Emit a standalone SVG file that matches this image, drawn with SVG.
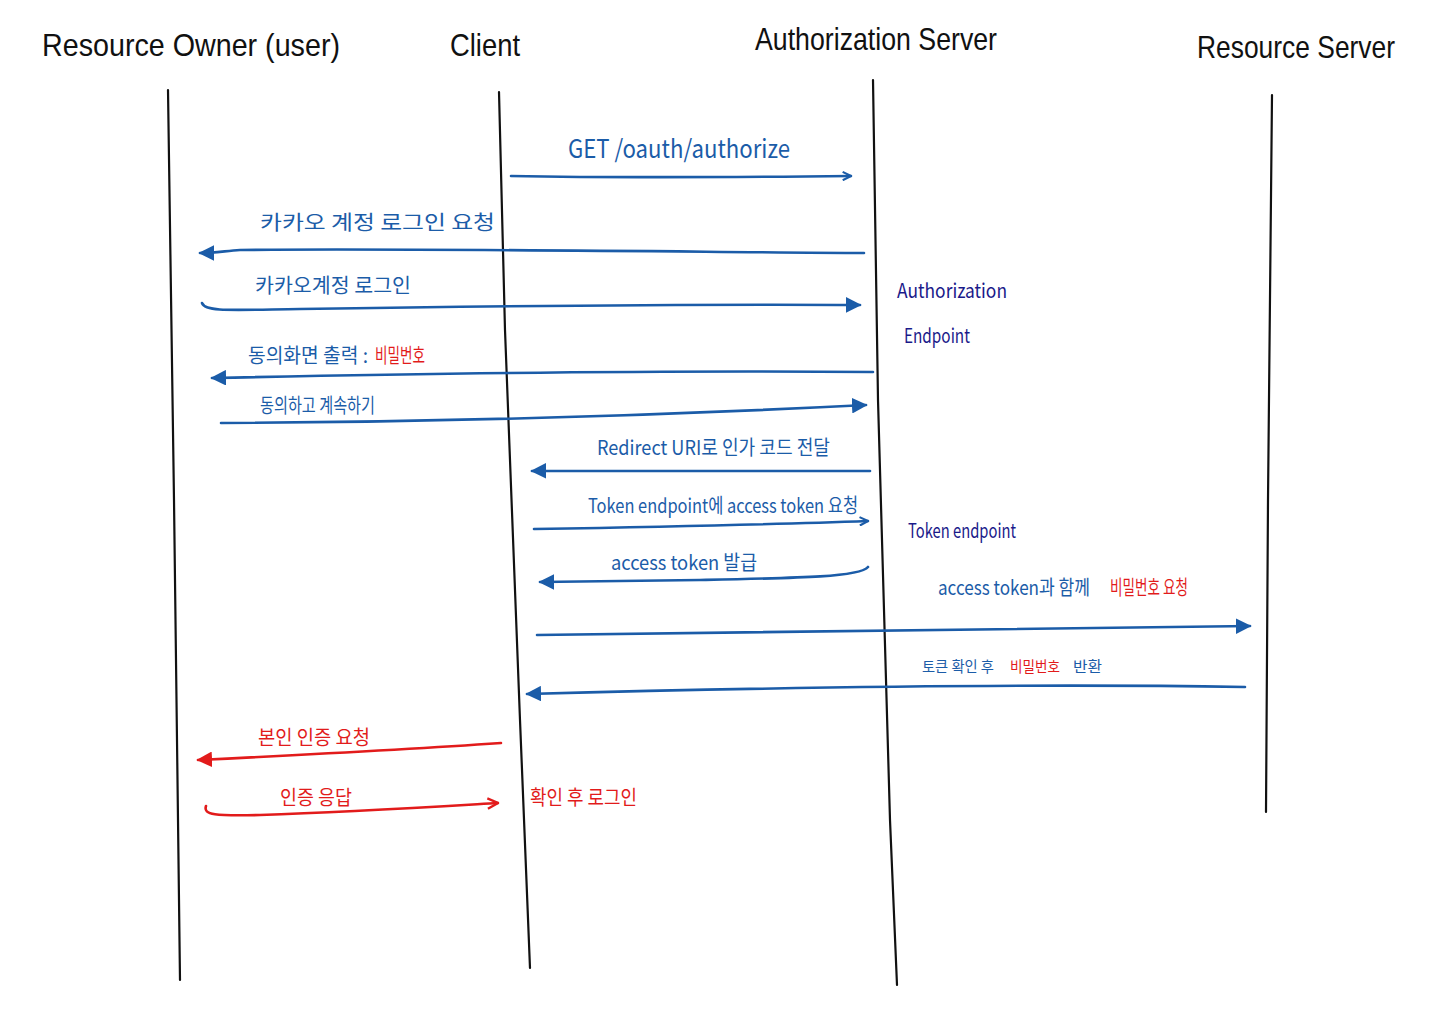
<svg xmlns="http://www.w3.org/2000/svg" width="1440" height="1018" viewBox="0 0 1440 1018">
<style>
.life{fill:none;stroke:#111;stroke-width:2.2;stroke-linecap:round}
.hdr{font-family:"Liberation Sans","Noto Sans CJK KR",sans-serif;font-size:32px;fill:#111}
.b{fill:none;stroke:#1b5ca8;stroke-width:2.6;stroke-linecap:round}
.r{fill:none;stroke:#e21b1b;stroke-width:2.6;stroke-linecap:round}
.t{font-family:"Noto Sans CJK KR","Liberation Sans",sans-serif;font-size:20px}
.tb{fill:#1b5ca8}
.tr{fill:#e21b1b}
.tn{fill:#1a1a8a}
</style>
<defs>
<marker id="fb" viewBox="0 0 10 10" refX="9" refY="5" markerWidth="6" markerHeight="6" orient="auto" markerUnits="strokeWidth"><path d="M0,0 L10,5 L0,10 Z" fill="#1b5ca8"/></marker>
<marker id="ob" viewBox="0 0 10 10" refX="9" refY="5" markerWidth="4" markerHeight="4" orient="auto" markerUnits="strokeWidth"><path d="M1,1 L9,5 L1,9" fill="none" stroke="#1b5ca8" stroke-width="2"/></marker>
<marker id="fr" viewBox="0 0 10 10" refX="9" refY="5" markerWidth="6" markerHeight="6" orient="auto" markerUnits="strokeWidth"><path d="M0,0 L10,5 L0,10 Z" fill="#e21b1b"/></marker>
<marker id="or" viewBox="0 0 10 10" refX="9" refY="5" markerWidth="5" markerHeight="5" orient="auto" markerUnits="strokeWidth"><path d="M1,1 L9,5 L1,9" fill="none" stroke="#e21b1b" stroke-width="1.8"/></marker>
</defs>
<rect width="1440" height="1018" fill="#fff"/>

<g id="resource-owner">
<text class="hdr" x="42" y="56" textLength="298" lengthAdjust="spacingAndGlyphs">Resource Owner (user)</text>
<path class="life" d="M168,90 L174,500 L180,980"/>
</g>
<g id="client">
<text class="hdr" x="450" y="56" textLength="70" lengthAdjust="spacingAndGlyphs">Client</text>
<path class="life" d="M499,92 L505,330 L520,720 L530,968"/>
</g>
<g id="authorization-server">
<text class="hdr" x="755" y="50" textLength="242" lengthAdjust="spacingAndGlyphs">Authorization Server</text>
<path class="life" d="M873,80 L878,400 L890,820 L897,985"/>
<text class="t tn" x="897" y="298" textLength="110" lengthAdjust="spacingAndGlyphs">Authorization</text>
<text class="t tn" x="904" y="343" textLength="66" lengthAdjust="spacingAndGlyphs">Endpoint</text>
<text class="t tn" x="908" y="538" textLength="108" lengthAdjust="spacingAndGlyphs">Token endpoint</text>
</g>
<g id="resource-server">
<text class="hdr" x="1197" y="58" textLength="198" lengthAdjust="spacingAndGlyphs">Resource Server</text>
<path class="life" d="M1272,95 L1268,500 L1266,812"/>
</g>

<g id="connectors">
<path class="b" d="M511,176 C620,178 760,177 851,176" marker-end="url(#ob)"/>
<text class="t tb" x="568" y="158" style="font-size:25px" textLength="222" lengthAdjust="spacingAndGlyphs">GET /oauth/authorize</text>

<path class="b" d="M864,253 C700,252 400,248 240,250 C225,251 215,253 200,253" marker-end="url(#fb)"/>
<text class="t tb" x="260" y="230" textLength="235" lengthAdjust="spacingAndGlyphs">카카오 계정 로그인 요청</text>

<path class="b" d="M202,303 C205,312 230,310 300,309 C500,306 700,304 860,305" marker-end="url(#fb)"/>
<text class="t tb" x="255" y="293" textLength="156" lengthAdjust="spacingAndGlyphs">카카오계정 로그인</text>

<path class="b" d="M873,372 C650,370 400,374 212,378" marker-end="url(#fb)"/>
<text class="t tb" x="248" y="363"><tspan textLength="120" lengthAdjust="spacingAndGlyphs">동의화면 출력 :</tspan><tspan class="tr" x="375" textLength="50" lengthAdjust="spacingAndGlyphs">비밀번호</tspan></text>

<path class="b" d="M221,423 C450,422 650,416 866,405" marker-end="url(#fb)"/>
<text class="t tb" x="260" y="413" textLength="115" lengthAdjust="spacingAndGlyphs">동의하고 계속하기</text>

<path class="b" d="M870,471 C750,470 640,470 532,471" marker-end="url(#fb)"/>
<text class="t tb" x="597" y="455" textLength="233" lengthAdjust="spacingAndGlyphs">Redirect URI로 인가 코드 전달</text>

<path class="b" d="M534,529 C650,527 760,525 868,521" marker-end="url(#ob)"/>
<text class="t tb" x="588" y="513" textLength="270" lengthAdjust="spacingAndGlyphs">Token endpoint에 access token 요청</text>

<path class="b" d="M868,567 C860,577 800,578 700,580 C620,581 580,582 540,582" marker-end="url(#fb)"/>
<text class="t tb" x="611" y="570" textLength="146" lengthAdjust="spacingAndGlyphs">access token 발급</text>

<path class="b" d="M537,635 C800,632 1050,628 1250,626" marker-end="url(#fb)"/>
<text class="t tb" x="938" y="595"><tspan textLength="152" lengthAdjust="spacingAndGlyphs">access token과 함께</tspan><tspan class="tr" x="1110" textLength="78" lengthAdjust="spacingAndGlyphs">비밀번호 요청</tspan></text>

<path class="b" d="M1245,687 C1000,683 750,688 527,694" marker-end="url(#fb)"/>
<text class="t tb" x="922" y="672" style="font-size:15px"><tspan textLength="72" lengthAdjust="spacingAndGlyphs">토큰 확인 후</tspan><tspan class="tr" x="1010" textLength="50" lengthAdjust="spacingAndGlyphs">비밀번호</tspan><tspan x="1073" textLength="29" lengthAdjust="spacingAndGlyphs">반환</tspan></text>

<path class="r" d="M501,743 C400,750 300,755 198,760" marker-end="url(#fr)"/>
<text class="t tr" x="258" y="745" textLength="112" lengthAdjust="spacingAndGlyphs">본인 인증 요청</text>

<path class="r" d="M206,806 C203,815 215,816 260,815 C350,812 430,807 498,803" marker-end="url(#or)"/>
<text class="t tr" x="280" y="805" textLength="72" lengthAdjust="spacingAndGlyphs">인증 응답</text>
<text class="t tr" x="530" y="805" textLength="107" lengthAdjust="spacingAndGlyphs">확인 후 로그인</text>
</g>
</svg>
